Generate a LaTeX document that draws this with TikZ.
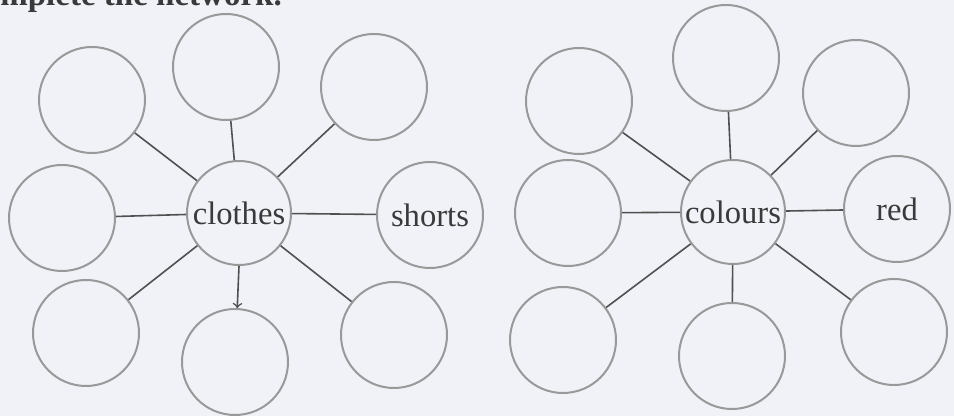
\documentclass[tikz,border=0pt]{standalone}
\usepackage{fontspec}
\setmainfont{Liberation Serif}
\definecolor{paper}{HTML}{F1F2F7}
\definecolor{ring}{HTML}{999999}
\definecolor{spoke}{HTML}{505050}
\definecolor{ink}{HTML}{3A3A3A}

\tikzset{
  bubble/.style={circle, draw=ring, line width=1pt, minimum size=53pt, inner sep=0pt,
    text=ink, font=\fontsize{16.3}{18}\selectfont},
  hub/.style={bubble, minimum size=52pt},
  spoke/.style={draw=spoke, line width=0.8pt}
}

\begin{document}
\begin{tikzpicture}[x=0.5pt,y=-0.5pt]

\clip (0,0) rectangle (954,416);
\fill[paper] (0,0) rectangle (954,416);

\node[anchor=base west, text=ink, font=\bfseries\fontsize{16.5}{18}\selectfont, inner sep=0pt]
  (title) at (0,6) {mplete the network.};

% clothes
\node[hub] (clothes) at (239,213) {clothes};
\node[bubble] (c1) at (226,67) {};
\node[bubble] (c2) at (92,100) {};
\node[bubble] (c3) at (374,87) {};
\node[bubble] (c4) at (62,218) {};
\node[bubble] (shorts) at (430,215) {shorts};
\node[bubble] (c5) at (86,333) {};
\node[bubble] (c6) at (235,362) {};
\node[bubble] (c7) at (394,335) {};

\draw[spoke] (clothes) -- (c1);
\draw[spoke] (clothes) -- (c2);
\draw[spoke] (clothes) -- (c3);
\draw[spoke] (clothes) -- (c4);
\draw[spoke] (clothes) -- (shorts);
\draw[spoke] (clothes) -- (c5);
\draw[spoke,->] (clothes.270) -- (c6);
\draw[spoke] (clothes) -- (c7);

% colours
\node[hub] (colours) at (733,212) {colours};
\node[bubble] (k1) at (726,58) {};
\node[bubble] (k2) at (579,101) {};
\node[bubble] (k3) at (856,93) {};
\node[bubble] (k4) at (568,213) {};
\node[bubble] (red) at (897,209) {red};
\node[bubble] (k5) at (563,340) {};
\node[bubble] (k6) at (732,356) {};
\node[bubble] (k7) at (894,332) {};

\draw[spoke] (colours) -- (k1);
\draw[spoke] (colours) -- (k2);
\draw[spoke] (colours) -- (k3);
\draw[spoke] (colours) -- (k4);
\draw[spoke] (colours) -- (red);
\draw[spoke] (colours) -- (k5);
\draw[spoke] (colours) -- (k6);
\draw[spoke] (colours) -- (k7);

\end{tikzpicture}
\end{document}
